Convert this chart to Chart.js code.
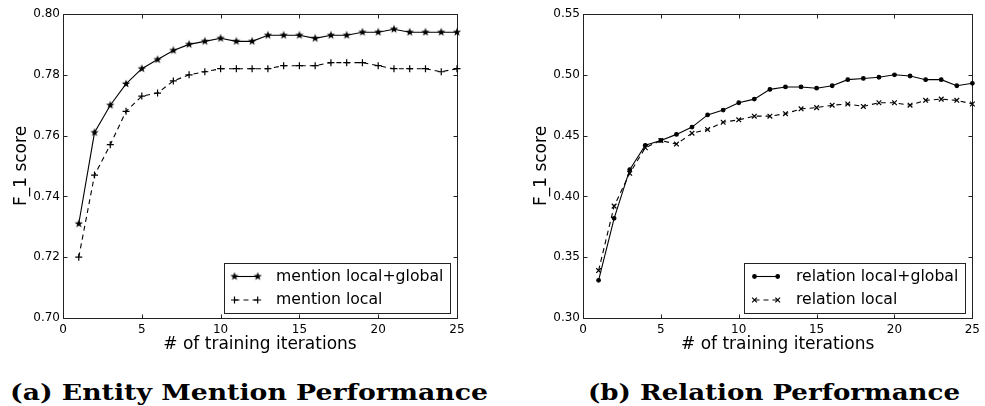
<!DOCTYPE html>
<html>
<head>
<meta charset="utf-8">
<script src="https://cdn.jsdelivr.net/npm/chart.js@4.4.0/dist/chart.umd.min.js"></script>
<style>
  body { margin: 0; background: #fff; width: 985px; height: 406px; position: relative; overflow: hidden; }
  canvas { position: absolute; top: 0; }
  #chartA { left: 0; }
  #chartB { left: 520px; }
  .cap { position: absolute; top: 381px; font: bold 22px "DejaVu Serif", serif; line-height: 22px;
         white-space: nowrap; color: #000; transform-origin: 0 0; }
</style>
</head>
<body>
<canvas id="chartA" width="492" height="360"></canvas>
<canvas id="chartB" width="465" height="360"></canvas>
<div class="cap" id="capA"></div>
<div class="cap" id="capB"></div>
<script>
// values
const iterations = [1, 2, 3, 4, 5, 6, 7, 8, 9, 10, 11, 12, 13, 14, 15, 16, 17, 18, 19, 20, 21, 22, 23, 24, 25];
const mentionGlobal = [0.731, 0.761, 0.770, 0.777, 0.782, 0.785, 0.788, 0.790, 0.791, 0.792, 0.791, 0.791, 0.793,
                       0.793, 0.793, 0.792, 0.793, 0.793, 0.794, 0.794, 0.795, 0.794, 0.794, 0.794, 0.794];
const mentionLocal = [0.720, 0.747, 0.757, 0.768, 0.773, 0.774, 0.778, 0.780, 0.781, 0.782, 0.782, 0.782, 0.782,
                      0.783, 0.783, 0.783, 0.784, 0.784, 0.784, 0.783, 0.782, 0.782, 0.782, 0.781, 0.782];
const relationGlobal = [0.331, 0.382, 0.422, 0.442, 0.446, 0.451, 0.457, 0.467, 0.471, 0.477, 0.480, 0.488, 0.490,
                        0.490, 0.489, 0.491, 0.496, 0.497, 0.498, 0.500, 0.499, 0.496, 0.496, 0.491, 0.493];
const relationLocal = [0.339, 0.392, 0.419, 0.440, 0.446, 0.443, 0.452, 0.455, 0.461, 0.463, 0.466, 0.466, 0.468,
                       0.472, 0.473, 0.475, 0.476, 0.474, 0.477, 0.477, 0.475, 0.479, 0.480, 0.479, 0.476];

const xTicks = [0, 5, 10, 15, 20, 25];
const mentionYTicks = [0.70, 0.72, 0.74, 0.76, 0.78, 0.80];
const relationYTicks = [0.30, 0.35, 0.40, 0.45, 0.50, 0.55];

const mentionNames = ['mention local+global', 'mention local'];
const relationNames = ['relation local+global', 'relation local'];
const xTitle = '# of training iterations';
const yTitle = 'F_1 score';
const captions = ['(a) Entity Mention Performance', '(b) Relation Performance'];

const fam = '"DejaVu Sans", sans-serif';

// filled five point star marker
const star = document.createElement('canvas');
star.width = star.height = 10;
const sg = star.getContext('2d');
sg.fillStyle = '#000';
sg.beginPath();
for (let i = 0; i < 10; i++) {
  const r = i % 2 ? 1.8 : 4.4;
  const a = -Math.PI / 2 + i * Math.PI / 5;
  sg.lineTo(5 + r * Math.cos(a), 5 + r * Math.sin(a));
}
sg.closePath();
sg.fill();

// frame with inward ticks on all four sides
const framePlugin = {
  id: 'frame',
  beforeDatasetsDraw(chart) {
    const { ctx, chartArea: a, scales } = chart;
    const L = Math.round(a.left) + 0.5, R = Math.round(a.right) + 0.5;
    const T = Math.round(a.top) + 0.5, B = Math.round(a.bottom) + 0.5;
    ctx.save();
    ctx.strokeStyle = '#222';
    ctx.lineWidth = 1;
    ctx.strokeRect(L, T, R - L, B - T);
    ctx.beginPath();
    scales.x.ticks.forEach(t => {
      const px = Math.round(scales.x.getPixelForValue(t.value)) + 0.5;
      ctx.moveTo(px, B); ctx.lineTo(px, B - 4);
      ctx.moveTo(px, T); ctx.lineTo(px, T + 4);
    });
    scales.y.ticks.forEach(t => {
      const py = Math.round(scales.y.getPixelForValue(t.value)) + 0.5;
      ctx.moveTo(L, py); ctx.lineTo(L + 4, py);
      ctx.moveTo(R, py); ctx.lineTo(R - 4, py);
    });
    ctx.stroke();
    ctx.restore();
  }
};

// matplotlib style boxed legend in the lower right corner
const boxLegend = {
  id: 'boxLegend',
  afterDatasetsDraw(chart) {
    const { ctx, chartArea: a } = chart;
    const sets = chart.data.datasets;
    ctx.save();
    ctx.font = '15.7px ' + fam;
    const tw = Math.max(...sets.map(d => ctx.measureText(d.label).width));
    const w = Math.round(52 + tw + 7), h = 50;
    const x0 = Math.round(a.right - 7 - w), y0 = Math.round(a.bottom - 5 - h);
    ctx.fillStyle = '#fff';
    ctx.fillRect(x0, y0, w, h);
    ctx.strokeStyle = '#222';
    ctx.lineWidth = 1;
    ctx.strokeRect(x0 + 0.5, y0 + 0.5, w, h);
    sets.forEach((d, i) => {
      const y = y0 + 13.5 + i * 23.5;
      const xa = x0 + 10.5, xb = x0 + 33.7;
      ctx.strokeStyle = '#000';
      ctx.fillStyle = '#000';
      ctx.lineWidth = d.borderWidth;
      ctx.setLineDash(d.borderDash || []);
      ctx.beginPath();
      ctx.moveTo(xa, y); ctx.lineTo(xb, y);
      ctx.stroke();
      ctx.setLineDash([]);
      ctx.lineWidth = d.pointBorderWidth;
      [xa, xb].forEach(px => Chart.helpers.drawPoint(ctx,
        { pointStyle: d.pointStyle, radius: d.pointRadius, borderWidth: d.pointBorderWidth, rotation: 0 }, px, y));
      ctx.fillStyle = '#000';
      ctx.textBaseline = 'middle';
      ctx.textAlign = 'left';
      ctx.fillText(d.label, x0 + 52, y);
    });
    ctx.restore();
  }
};

function series(label, vals, dashed, pointStyle, radius) {
  return {
    label,
    data: iterations.map((x, i) => ({ x, y: vals[i] })),
    borderColor: '#000',
    backgroundColor: '#000',
    borderWidth: 1.1,
    borderDash: dashed ? [5, 4] : [],
    pointStyle,
    pointRadius: radius,
    pointBorderWidth: 1.2,
    pointBackgroundColor: '#000',
    pointBorderColor: '#000',
    tension: 0,
    clip: false
  };
}

function makeChart(id, datasets, yTicks, padRight) {
  return new Chart(document.getElementById(id), {
    type: 'line',
    data: { datasets },
    plugins: [framePlugin, boxLegend],
    options: {
      responsive: false,
      animation: false,
      devicePixelRatio: 1,
      layout: { padding: { left: 0, right: padRight, top: 14, bottom: 0 } },
      plugins: { legend: { display: false }, tooltip: { enabled: false } },
      scales: {
        x: {
          type: 'linear',
          min: xTicks[0], max: xTicks[xTicks.length - 1],
          afterBuildTicks: s => { s.ticks = xTicks.map(v => ({ value: v })); },
          afterFit: s => { s.height = 42; },
          grid: { display: false, drawTicks: false },
          border: { display: false },
          ticks: { padding: 5, color: '#000', font: { family: fam, size: 12 }, maxRotation: 0, autoSkip: false,
                   callback: v => String(v) },
          title: { display: true, text: xTitle, color: '#000', font: { family: fam, size: 17 },
                   padding: { top: 0, bottom: 5 } }
        },
        y: {
          type: 'linear',
          min: yTicks[0], max: yTicks[yTicks.length - 1],
          afterBuildTicks: s => { s.ticks = yTicks.map(v => ({ value: v })); },
          afterFit: s => { s.width = 63; },
          grid: { display: false, drawTicks: false },
          border: { display: false },
          ticks: { padding: 3, color: '#000', font: { family: fam, size: 12 }, autoSkip: false,
                   callback: v => v.toFixed(2) },
          title: { display: true, text: yTitle, color: '#000', font: { family: fam, size: 17 },
                   padding: { top: 11, bottom: 0 } }
        }
      }
    }
  });
}

makeChart('chartA', [
  series(mentionNames[0], mentionGlobal, false, star, 5),
  series(mentionNames[1], mentionLocal, true, 'cross', 3.5)
], mentionYTicks, 35);

makeChart('chartB', [
  series(relationNames[0], relationGlobal, false, 'circle', 1.8),
  series(relationNames[1], relationLocal, true, 'crossRot', 3.3)
], relationYTicks, 8);

// captions centred under each panel, widened like the extended bold face of the figure
function placeCaption(el, text, centre, width) {
  el.textContent = text;
  const cur = el.getBoundingClientRect().width;
  el.style.transform = 'scaleX(' + (width / cur) + ')';
  el.style.left = (centre - width / 2) + 'px';
}
placeCaption(document.getElementById('capA'), captions[0], 249, 478);
placeCaption(document.getElementById('capB'), captions[1], 774, 372);
</script>
</body>
</html>
